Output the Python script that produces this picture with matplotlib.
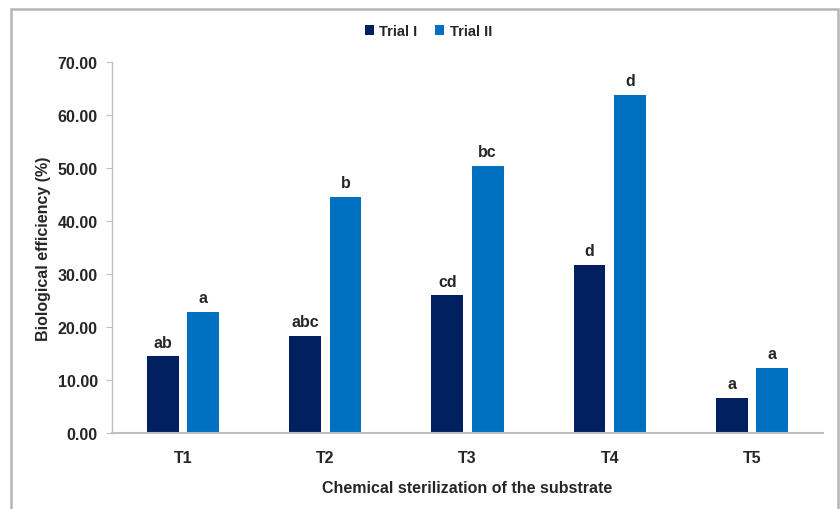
import numpy as np
import matplotlib
matplotlib.use('Agg')
import matplotlib.pyplot as plt
from matplotlib.patches import Rectangle

plt.rcParams['font.family'] = ['Liberation Sans', 'DejaVu Sans']
plt.rcParams['font.weight'] = 'bold'

# Biological efficiency per treatment, two trials
treatments = ['T1', 'T2', 'T3', 'T4', 'T5']
trial_1 = [14.5, 18.4, 26.0, 31.8, 6.7]
trial_2 = [22.9, 44.6, 50.4, 63.8, 12.3]
letters_1 = ['ab', 'abc', 'cd', 'd', 'a']
letters_2 = ['a', 'b', 'bc', 'd', 'a']

text_col = '#262626'
axis_col = '#bfbfbf'

fig = plt.figure(figsize=(8.4, 5.1), dpi=100)
ax = fig.add_axes([0.133, 0.1484, 0.847, 0.7276])

x = np.arange(len(treatments))
w = 0.223
off = 0.142
b1 = ax.bar(x - off, trial_1, w, color='#002060', label='Trial I')
b2 = ax.bar(x + off, trial_2, w, color='#0070C0', label='Trial II')

for bars, letters in ((b1, letters_1), (b2, letters_2)):
    for bar, lab in zip(bars, letters):
        ax.annotate(lab, (bar.get_x() + bar.get_width() / 2, bar.get_height()),
                    xytext=(0, 5), textcoords='offset points',
                    ha='center', va='bottom', fontsize=11.5, fontweight='bold',
                    color=text_col)

ax.set_xlim(-0.5, 4.5)
ax.set_ylim(0, 70)
ax.set_yticks(np.arange(0, 71, 10))
ax.set_yticklabels([f'{v:.2f}' for v in np.arange(0, 71, 10)])
ax.set_xticks(x)
ax.set_xticklabels(treatments)

for s in ('top', 'right'):
    ax.spines[s].set_visible(False)
ax.spines['left'].set_color(axis_col)
ax.spines['bottom'].set_color(axis_col)
ax.spines['left'].set_linewidth(1.0)
ax.spines['bottom'].set_linewidth(1.5)
ax.tick_params(axis='y', length=4, color=axis_col, labelsize=11.5,
               labelcolor=text_col, pad=6)
ax.tick_params(axis='x', length=0, labelsize=11.5, labelcolor=text_col, pad=12)

ax.set_xlabel('Chemical sterilization of the substrate', fontsize=11.5,
              fontweight='bold', color=text_col, labelpad=11)
ax.set_ylabel('Biological efficiency (%)', fontsize=11.5,
              fontweight='bold', color=text_col, labelpad=5)

fig.legend(loc='center', bbox_to_anchor=(0.51, 0.937), ncol=2, frameon=False,
           fontsize=10.5, handlelength=0.6, handleheight=0.6, handletextpad=0.4,
           columnspacing=1.2, labelcolor=text_col)

# outer frame around the figure
fig.patches.append(Rectangle((11 / 840, -0.05), 827 / 840, 1.03,
                             transform=fig.transFigure, fill=False,
                             edgecolor='#b5b5b5', linewidth=1.8))

fig.savefig('out.png', dpi=100)
